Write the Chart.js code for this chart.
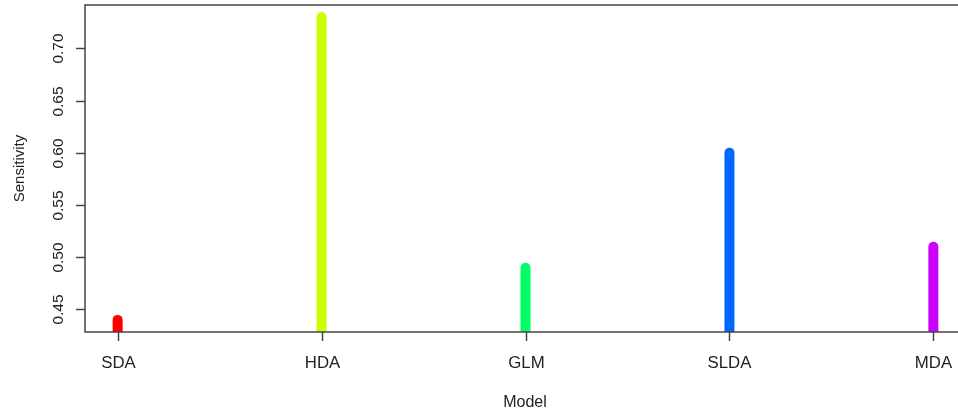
<!DOCTYPE html>
<html>
<head>
<meta charset="utf-8">
<script src="https://cdn.jsdelivr.net/npm/chart.js@4"></script>
<style>
  html, body { margin: 0; padding: 0; background: #fff; overflow: hidden; }
  #wrap { width: 1000px; height: 418px; }
</style>
</head>
<body>
<div id="wrap"><canvas id="chart" width="1000" height="418"></canvas></div>
<script>
const models = ['SDA', 'HDA', 'GLM', 'SLDA', 'MDA'];
const sensitivity = [0.44, 0.73, 0.49, 0.60, 0.51];
const colors = ['#FF0000', '#CCFF00', '#00FF66', '#0066FF', '#CC00FF'];
const yTicks = [0.45, 0.50, 0.55, 0.60, 0.65, 0.70];

// R-style 4% axis extension
const ext = (lo, hi) => [lo - (hi - lo) * 0.04, hi + (hi - lo) * 0.04];
const [xMin, xMax] = ext(1, models.length);
const [yMin, yMax] = ext(Math.min(...sensitivity), Math.max(...sensitivity));

const FAM = '"Liberation Sans", Arial, sans-serif';

const rAxes = {
  id: 'rAxes',
  afterDraw(chart) {
    const ctx = chart.ctx, a = chart.chartArea;
    const xs = chart.scales.x, ys = chart.scales.y;
    ctx.save();
    ctx.strokeStyle = '#444';
    ctx.lineWidth = 1.5;
    ctx.strokeRect(a.left, a.top, a.right - a.left, a.bottom - a.top);

    ctx.fillStyle = '#222';
    ctx.textAlign = 'center';
    ctx.textBaseline = 'alphabetic';
    // x ticks + labels
    ctx.font = '16.8px ' + FAM;
    models.forEach((m, i) => {
      const px = Math.round(xs.getPixelForValue(i + 1)) + 0.5;
      ctx.beginPath();
      ctx.moveTo(px, a.bottom);
      ctx.lineTo(px, a.bottom + 9);
      ctx.stroke();
      ctx.fillText(m, px, a.bottom + 36);
    });
    // y ticks + rotated labels
    ctx.font = '15.5px ' + FAM;
    yTicks.forEach(v => {
      const py = Math.round(ys.getPixelForValue(v)) + 0.5;
      ctx.beginPath();
      ctx.moveTo(a.left, py);
      ctx.lineTo(a.left - 9, py);
      ctx.stroke();
      ctx.save();
      ctx.translate(a.left - 22, py);
      ctx.rotate(-Math.PI / 2);
      ctx.fillText(v.toFixed(2), 0, 0);
      ctx.restore();
    });
    // axis titles
    ctx.font = '16px ' + FAM;
    ctx.fillText('Model', 525, 407);
    ctx.font = '15px ' + FAM;
    ctx.save();
    ctx.translate(24, (a.top + a.bottom) / 2);
    ctx.rotate(-Math.PI / 2);
    ctx.fillText('Sensitivity', 0, 0);
    ctx.restore();
    ctx.restore();
  }
};

new Chart(document.getElementById('chart'), {
  type: 'line',
  data: {
    datasets: models.map((m, i) => ({
      label: m,
      data: [{ x: i + 1, y: 0 }, { x: i + 1, y: sensitivity[i] }],
      borderColor: colors[i],
      borderWidth: 10,
      borderCapStyle: 'round',
      pointRadius: 0,
      clip: 0
    }))
  },
  options: {
    responsive: false,
    animation: false,
    devicePixelRatio: 1,
    layout: { padding: { left: 85, top: 5, right: 34, bottom: 86 } },
    plugins: { legend: { display: false }, tooltip: { enabled: false } },
    scales: {
      x: { type: 'linear', min: xMin, max: xMax, display: false },
      y: { type: 'linear', min: yMin, max: yMax, display: false }
    }
  },
  plugins: [rAxes]
});
</script>
</body>
</html>
